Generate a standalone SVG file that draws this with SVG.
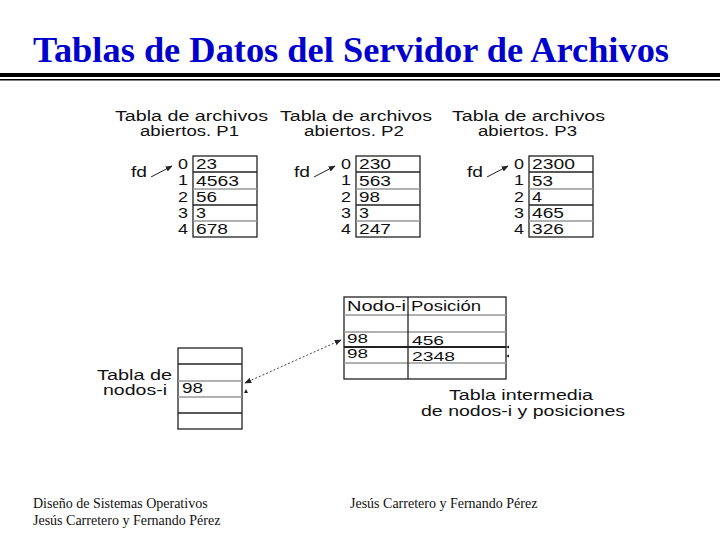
<svg xmlns="http://www.w3.org/2000/svg" width="720" height="540" viewBox="0 0 720 540">
<defs>
<style>
.title{font-family:"Liberation Serif","Times New Roman",serif;font-size:36px;font-weight:bold;fill:#0000cc}
.lbl,.num,.idx{font-family:"Liberation Sans",Arial,sans-serif;font-size:14px;fill:#111}
.sm{font-size:13px}
.foot{font-family:"Liberation Serif","Times New Roman",serif;font-size:14px;fill:#111}
.box{fill:#fff;stroke:#222;stroke-width:1.3}
.dk{stroke:#222;stroke-width:1.3}
.lt{stroke:#999;stroke-width:1.3}
.arr{stroke:#222;stroke-width:1;fill:none}
.dash{stroke:#444;stroke-width:1;stroke-dasharray:2,2;fill:none}
</style>
<marker id="ah" viewBox="0 0 10 10" refX="9" refY="5" markerWidth="7" markerHeight="7" orient="auto-start-reverse" markerUnits="userSpaceOnUse">
<path d="M0,1 L10,5 L0,9 z" fill="#222"/>
</marker>
</defs>
<rect width="720" height="540" fill="#fff"/>
<g id="title">
<text class="title" x="33" y="62" textLength="636" lengthAdjust="spacingAndGlyphs">Tablas de Datos del Servidor de Archivos</text>
<rect x="0" y="73" width="720" height="4" fill="#000"/>
<rect x="0" y="79" width="720" height="1.5" fill="#000"/>
</g>
<g id="p1">
<text class="lbl" x="115" y="121" textLength="153" lengthAdjust="spacingAndGlyphs">Tabla de archivos</text>
<text class="lbl" x="140" y="136" textLength="99" lengthAdjust="spacingAndGlyphs">abiertos. P1</text>
<text class="lbl" x="131" y="177" textLength="16" lengthAdjust="spacingAndGlyphs">fd</text>
<rect class="box" x="193" y="156" width="64" height="81"/>
<line class="dk" x1="193" y1="172" x2="257" y2="172"/>
<line class="lt" x1="193" y1="189" x2="257" y2="189"/>
<line class="dk" x1="193" y1="205" x2="257" y2="205"/>
<line class="lt" x1="193" y1="221" x2="257" y2="221"/>
<text class="idx" x="178" y="169" textLength="10" lengthAdjust="spacingAndGlyphs">0</text>
<text class="idx" x="178" y="185" textLength="10" lengthAdjust="spacingAndGlyphs">1</text>
<text class="idx" x="178" y="202" textLength="10" lengthAdjust="spacingAndGlyphs">2</text>
<text class="idx" x="178" y="218" textLength="10" lengthAdjust="spacingAndGlyphs">3</text>
<text class="idx" x="178" y="234" textLength="10" lengthAdjust="spacingAndGlyphs">4</text>
<text class="num" x="196" y="169" textLength="21" lengthAdjust="spacingAndGlyphs">23</text>
<text class="num" x="196" y="186" textLength="43" lengthAdjust="spacingAndGlyphs">4563</text>
<text class="num" x="196" y="202" textLength="21" lengthAdjust="spacingAndGlyphs">56</text>
<text class="num" x="196" y="218" textLength="10" lengthAdjust="spacingAndGlyphs">3</text>
<text class="num" x="196" y="234" textLength="32" lengthAdjust="spacingAndGlyphs">678</text>
</g>
<g id="p2">
<text class="lbl" x="280" y="121" textLength="152" lengthAdjust="spacingAndGlyphs">Tabla de archivos</text>
<text class="lbl" x="304" y="136" textLength="100" lengthAdjust="spacingAndGlyphs">abiertos. P2</text>
<text class="lbl" x="294" y="177" textLength="16" lengthAdjust="spacingAndGlyphs">fd</text>
<rect class="box" x="356" y="156" width="64" height="81"/>
<line class="dk" x1="356" y1="172" x2="420" y2="172"/>
<line class="lt" x1="356" y1="189" x2="420" y2="189"/>
<line class="dk" x1="356" y1="205" x2="420" y2="205"/>
<line class="lt" x1="356" y1="221" x2="420" y2="221"/>
<text class="idx" x="341" y="169" textLength="10" lengthAdjust="spacingAndGlyphs">0</text>
<text class="idx" x="341" y="185" textLength="10" lengthAdjust="spacingAndGlyphs">1</text>
<text class="idx" x="341" y="202" textLength="10" lengthAdjust="spacingAndGlyphs">2</text>
<text class="idx" x="341" y="218" textLength="10" lengthAdjust="spacingAndGlyphs">3</text>
<text class="idx" x="341" y="234" textLength="10" lengthAdjust="spacingAndGlyphs">4</text>
<text class="num" x="359" y="169" textLength="32" lengthAdjust="spacingAndGlyphs">230</text>
<text class="num" x="359" y="186" textLength="32" lengthAdjust="spacingAndGlyphs">563</text>
<text class="num" x="359" y="202" textLength="21" lengthAdjust="spacingAndGlyphs">98</text>
<text class="num" x="359" y="218" textLength="10" lengthAdjust="spacingAndGlyphs">3</text>
<text class="num" x="359" y="234" textLength="32" lengthAdjust="spacingAndGlyphs">247</text>
</g>
<g id="p3">
<text class="lbl" x="452" y="121" textLength="153" lengthAdjust="spacingAndGlyphs">Tabla de archivos</text>
<text class="lbl" x="478" y="136" textLength="99" lengthAdjust="spacingAndGlyphs">abiertos. P3</text>
<text class="lbl" x="467" y="177" textLength="16" lengthAdjust="spacingAndGlyphs">fd</text>
<rect class="box" x="529" y="156" width="64" height="81"/>
<line class="dk" x1="529" y1="172" x2="593" y2="172"/>
<line class="lt" x1="529" y1="189" x2="593" y2="189"/>
<line class="dk" x1="529" y1="205" x2="593" y2="205"/>
<line class="lt" x1="529" y1="221" x2="593" y2="221"/>
<text class="idx" x="514" y="169" textLength="10" lengthAdjust="spacingAndGlyphs">0</text>
<text class="idx" x="514" y="185" textLength="10" lengthAdjust="spacingAndGlyphs">1</text>
<text class="idx" x="514" y="202" textLength="10" lengthAdjust="spacingAndGlyphs">2</text>
<text class="idx" x="514" y="218" textLength="10" lengthAdjust="spacingAndGlyphs">3</text>
<text class="idx" x="514" y="234" textLength="10" lengthAdjust="spacingAndGlyphs">4</text>
<text class="num" x="532" y="169" textLength="43" lengthAdjust="spacingAndGlyphs">2300</text>
<text class="num" x="532" y="186" textLength="21" lengthAdjust="spacingAndGlyphs">53</text>
<text class="num" x="532" y="202" textLength="10" lengthAdjust="spacingAndGlyphs">4</text>
<text class="num" x="532" y="218" textLength="32" lengthAdjust="spacingAndGlyphs">465</text>
<text class="num" x="532" y="234" textLength="32" lengthAdjust="spacingAndGlyphs">326</text>
</g>
<g id="intermedia">
<rect class="box" x="344" y="297" width="162" height="82"/>
<line class="lt" x1="344" y1="315" x2="506" y2="315"/>
<line class="lt" x1="344" y1="332" x2="506" y2="332"/>
<line x1="344" y1="347" x2="506" y2="347" stroke="#222" stroke-width="2"/>
<line class="lt" x1="344" y1="363" x2="506" y2="363"/>
<line class="dk" x1="408" y1="297" x2="408" y2="379"/>
<text class="lbl" x="347" y="311" textLength="59" lengthAdjust="spacingAndGlyphs">Nodo-i</text>
<text class="lbl" x="411" y="311" textLength="70" lengthAdjust="spacingAndGlyphs">Posición</text>
<text class="num sm" x="347" y="343" textLength="21" lengthAdjust="spacingAndGlyphs">98</text>
<text class="num sm" x="412" y="345" textLength="32" lengthAdjust="spacingAndGlyphs">456</text>
<text class="num sm" x="347" y="358" textLength="21" lengthAdjust="spacingAndGlyphs">98</text>
<text class="num sm" x="412" y="361" textLength="43" lengthAdjust="spacingAndGlyphs">2348</text>
<text class="lbl" x="449" y="400" textLength="144" lengthAdjust="spacingAndGlyphs">Tabla intermedia</text>
<text class="lbl" x="421" y="416" textLength="204" lengthAdjust="spacingAndGlyphs">de nodos-i y posiciones</text>
</g>
<g id="nodos">
<rect class="box" x="178" y="348" width="64" height="81"/>
<line class="dk" x1="178" y1="364" x2="242" y2="364"/>
<line class="lt" x1="178" y1="381" x2="242" y2="381"/>
<line class="lt" x1="178" y1="397" x2="242" y2="397"/>
<line class="dk" x1="178" y1="413" x2="242" y2="413"/>
<text class="num" x="182" y="393" textLength="21" lengthAdjust="spacingAndGlyphs">98</text>
<text class="lbl" x="97" y="380" textLength="75" lengthAdjust="spacingAndGlyphs">Tabla de</text>
<text class="lbl" x="103" y="395" textLength="64" lengthAdjust="spacingAndGlyphs">nodos-i</text>
</g>
<g id="connectors">
<line class="arr" x1="151" y1="177" x2="172" y2="166" marker-end="url(#ah)"/>
<line class="arr" x1="314" y1="177" x2="335" y2="166" marker-end="url(#ah)"/>
<line class="arr" x1="487" y1="177" x2="508" y2="166" marker-end="url(#ah)"/>
<line class="dash" x1="341" y1="340" x2="245" y2="383" marker-start="url(#ah)" marker-end="url(#ah)"/>
<path d="M244,393 l2,-4 l2,4 z" fill="#222"/>
<path d="M506,347 l3,-1.5 l0,3 z" fill="#222"/>
<path d="M506,356 l3,-1.5 l0,3 z" fill="#222"/>
</g>
<g id="footer">
<text class="foot" x="33" y="508">Diseño de Sistemas Operativos</text>
<text class="foot" x="33" y="525">Jesús Carretero y Fernando Pérez</text>
<text class="foot" x="350" y="508">Jesús Carretero y Fernando Pérez</text>
</g>
</svg>
